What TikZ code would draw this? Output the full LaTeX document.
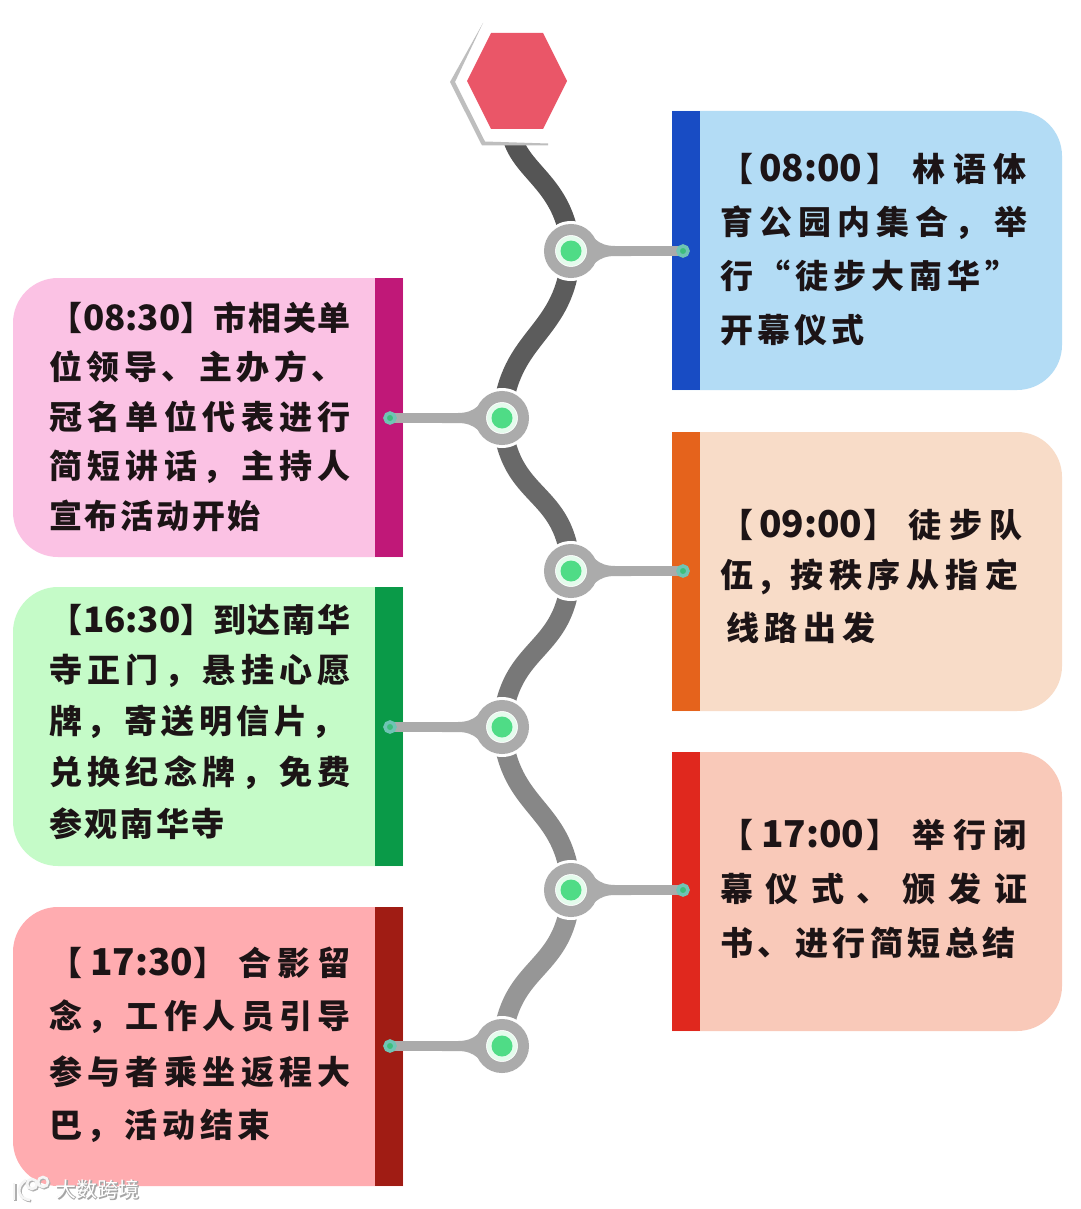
\documentclass[tikz,border=0pt]{standalone}
\usepackage{fontspec}
\newfontfamily\cjk{Noto Sans CJK SC}
\usetikzlibrary{calc}
\definecolor{hubgrey}{HTML}{ABABAB}
\definecolor{hubgreen}{HTML}{4FDC86}
\definecolor{halo}{HTML}{E4FBEC}
\definecolor{inkdark}{HTML}{1C1416}
\definecolor{tipgreen}{HTML}{3DBE7C}
\definecolor{tipring}{HTML}{6FC4B4}
\makeatletter
\newcommand\spreadtext[2]{\hbox to #1{\let\sep\relax\@tfor\tk:=#2\do{\sep\tk\def\sep{\hfill}}}}
\makeatother
\newcommand\tmA[1]{{\fontsize{37}{37}\selectfont #1}}
\newcommand\tmB[1]{{\fontsize{35}{35}\selectfont #1}}
% width, gap after opening bracket, time, gap after closing bracket
\newcommand\pre[4]{\hbox to #1pt{【\hskip #2pt #3\hfil 】\hskip #4pt}}
\newcommand\tline[5]{\node[cardtext] (#1) at (#2,#3) {\spreadtext{#4pt}{#5}};}
\tikzset{
  cardtext/.style={anchor=west,inner sep=0pt,outer sep=0pt,text=inkdark,font=\cjk\bfseries\fontsize{33}{33}\selectfont},
  spine/.style={line width=19.5pt},
  hubcore/.style={circle,inner sep=0pt,minimum size=43pt,fill=white,draw=hubgrey,line width=11pt},
  hubrim/.style={circle,inner sep=0pt,minimum size=60pt,fill=white},
  hubdot/.style={circle,inner sep=0pt,minimum size=21pt,fill=hubgreen},
  hubhalo/.style={circle,inner sep=0pt,minimum size=30pt,fill=halo},
  stem/.style={line width=10pt,hubgrey},
  tipdot/.style={circle,inner sep=0pt,minimum size=10pt,fill=tipgreen,draw=tipring,line width=3.5pt}
}
\newcommand\flare[2]{% hub name, direction
  \begin{scope}[shift={(#1)},xscale=#2]
    \fill[hubgrey] (12,-24) .. controls (22,-15) and (26,-5) .. (44,-5) -- (60,-5) -- (60,5) -- (44,5) .. controls (26,5) and (22,15) .. (12,24) -- cycle;
  \end{scope}}
\begin{document}
\begin{tikzpicture}[x=1pt,y=-1pt]
\useasboundingbox (0,0) rectangle (1080,1209);
\fill[white] (0,0) rectangle (1080,1209);

% cards, right column
\fill[rounded corners=45pt,fill={rgb,255:red,179;green,220;blue,245}] (672,111) -- (1062,111) -- (1062,390) [sharp corners] -- (672,390) -- cycle;
\fill[rounded corners=45pt,fill={rgb,255:red,248;green,220;blue,200}] (672,432) -- (1062,432) -- (1062,711) [sharp corners] -- (672,711) -- cycle;
\fill[rounded corners=45pt,fill={rgb,255:red,249;green,201;blue,185}] (672,752) -- (1062,752) -- (1062,1031) [sharp corners] -- (672,1031) -- cycle;
\fill[fill={rgb,255:red,24;green,76;blue,196}] (672,111) rectangle (700,390);
\fill[fill={rgb,255:red,229;green,99;blue,28}] (672,432) rectangle (700,711);
\fill[fill={rgb,255:red,224;green,40;blue,30}] (672,752) rectangle (700,1031);
% cards, left column
\fill[rounded corners=45pt,fill={rgb,255:red,251;green,194;blue,228}] (403,278) -- (13,278) -- (13,557) [sharp corners] -- (403,557) -- cycle;
\fill[rounded corners=45pt,fill={rgb,255:red,197;green,251;blue,200}] (403,587) -- (13,587) -- (13,866) [sharp corners] -- (403,866) -- cycle;
\fill[rounded corners=45pt,fill={rgb,255:red,255;green,172;blue,176}] (403,907) -- (13,907) -- (13,1186) [sharp corners] -- (403,1186) -- cycle;
\fill[fill={rgb,255:red,192;green,24;blue,120}] (375,278) rectangle (403,557);
\fill[fill={rgb,255:red,10;green,154;blue,72}] (375,587) rectangle (403,866);
\fill[fill={rgb,255:red,160;green,28;blue,20}] (375,907) rectangle (403,1186);

% anchors
\coordinate (hexfoot) at (513,140);
\coordinate (h1) at (571,251); \coordinate (t1) at (683,251);
\coordinate (h2) at (502,418); \coordinate (t2) at (390,418);
\coordinate (h3) at (571,571); \coordinate (t3) at (683,571);
\coordinate (h4) at (502,727); \coordinate (t4) at (390,727);
\coordinate (h5) at (571,890); \coordinate (t5) at (683,890);
\coordinate (h6) at (502,1046); \coordinate (t6) at (390,1046);

% spine
\draw[spine,color={rgb,255:red,85;green,85;blue,85}] (hexfoot) .. controls +(12,35) and +(-5,-65) .. (h1);
\draw[spine,color={rgb,255:red,92;green,92;blue,92}] (h1) .. controls +(-4,85) and +(6,-85) .. (h2);
\draw[spine,color={rgb,255:red,105;green,105;blue,105}] (h2) .. controls +(6,85) and +(-4,-85) .. (h3);
\draw[spine,color={rgb,255:red,120;green,120;blue,120}] (h3) .. controls +(-4,85) and +(6,-85) .. (h4);
\draw[spine,color={rgb,255:red,135;green,135;blue,135}] (h4) .. controls +(6,85) and +(-4,-85) .. (h5);
\draw[spine,color={rgb,255:red,150;green,150;blue,150}] (h5) .. controls +(-4,85) and +(6,-85) .. (h6);

% hexagon
\fill[white] (483,23) -- (452,82) -- (483,144) -- (547,144) -- (590,80) -- (550,23) -- cycle;
\fill[fill={rgb,255:red,190;green,190;blue,190}] (483,23) -- (450,82) -- (482,145.5) -- (548,145.5) -- (548,143.5) -- (485,141.5) -- (455,82) -- cycle;
\fill[fill={rgb,255:red,234;green,86;blue,104}] (491,33) -- (543,33) -- (567,81) -- (543,129) -- (491,129) -- (467,81) -- cycle;

% hubs and stems
\foreach \h/\t in {h1/t1,h2/t2,h3/t3,h4/t4,h5/t5,h6/t6}{
  \node[hubrim] at (\h) {};
  \draw[stem] (\h) -- (\t);
}
\foreach \h in {h1,h3,h5}{\flare{\h}{1}}
\foreach \h in {h2,h4,h6}{\flare{\h}{-1}}
\foreach \h in {h1,h2,h3,h4,h5,h6}{
  \node[hubcore] at (\h) {};
  \node[hubhalo] at (\h) {};
  \node[hubdot] at (\h) {};
}
\foreach \t in {t1,t2,t3,t4,t5,t6}{\node[tipdot] at (\t) {};}

% text, blue
\tline{a1}{720}{169}{307}{{\pre{185}{6}{\tmA{08:00}}{6}}林语体}
\tline{a2}{720}{223}{307}{育公园内集合，举}
\tline{a3}{720}{276}{298}{行“徒步大南华”}
\tline{a4}{720}{330}{145}{开幕仪式}
% orange
\tline{b1}{720}{525}{302}{{\pre{182}{6}{\tmA{09:00}}{6}}徒步队}
\tline{b2}{720}{577}{298}{伍{\hbox to 25pt{\hskip 2pt ,\hfil}}按秩序从指定}
\tline{b3}{726}{628}{150}{线路出发}
% red right
\tline{c1}{720}{835}{307}{{\pre{185}{8}{\tmA{17:00}}{6}}举行闭}
\tline{c2}{720}{889}{307}{幕仪式、颁发证}
\tline{c3}{720}{943}{296}{书、进行简短总结}
% pink
\tline{d1}{49}{318}{302}{{\pre{163}{1}{\tmB{08:30}}{0}}市相关单}
\tline{d2}{49}{367}{296}{位领导、主办方、}
\tline{d3}{49}{417}{302}{冠名单位代表进行}
\tline{d4}{49}{467}{302}{简短讲话，主持人}
\tline{d5}{49}{516}{212}{宣布活动开始}
% green
\tline{e1}{49}{620}{302}{{\pre{162}{1}{\tmB{16:30}}{0}}到达南华}
\tline{e2}{49}{671}{302}{寺正门，悬挂心愿}
\tline{e3}{49}{722}{296}{牌，寄送明信片，}
\tline{e4}{49}{773}{302}{兑换纪念牌，免费}
\tline{e5}{49}{824}{176}{参观南华寺}
% red left
\tline{f1}{49}{963}{302}{{\pre{182}{8}{\tmA{17:30}}{6}}合影留}
\tline{f2}{49}{1017}{302}{念，工作人员引导}
\tline{f3}{49}{1072}{302}{参与者乘坐返程大}
\tline{f4}{49}{1126}{222}{巴，活动结束}

% watermark
\node[anchor=west,inner sep=0pt,font=\cjk\bfseries\fontsize{21}{21}\selectfont,text={rgb,255:red,165;green,165;blue,165}] (wms) at (56.5,1190.5) {大数跨境};
\node[anchor=west,inner sep=0pt,font=\cjk\fontsize{21}{21}\selectfont,text=white] (wm) at (55.5,1189.5) {大数跨境};
\foreach \dx/\col in {1.2/175,0/245}{
\begin{scope}[shift={(\dx,\dx)},line width=2.6pt,color={rgb,255:red,\col;green,\col;blue,\col}]
  \draw (14,1183) -- (14,1200);
  \draw (26,1180) .. controls (15,1187) and (18,1199) .. (30,1200);
  \draw (32,1184) circle[radius=5];
  \draw (43,1182) circle[radius=5];
\end{scope}}
\end{tikzpicture}
\end{document}
